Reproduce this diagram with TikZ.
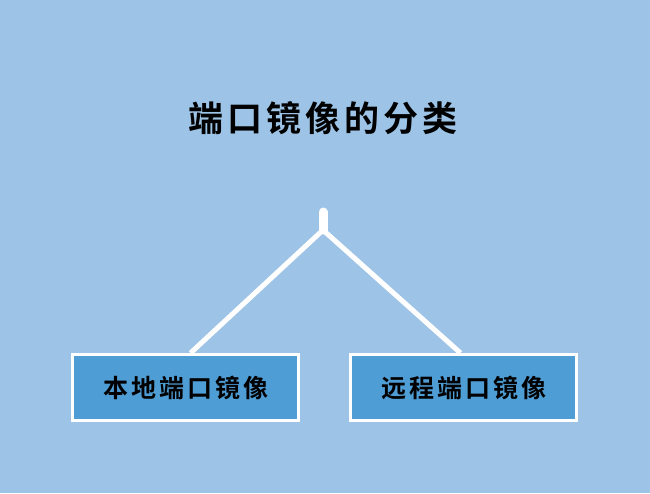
\documentclass[tikz,border=0pt]{standalone}
\usepackage{fontspec}
\newfontfamily\cjk{Noto Sans CJK SC Bold}
\definecolor{bgblue}{HTML}{9DC3E6}
\definecolor{boxblue}{HTML}{4F9DD5}
\begin{document}
\begin{tikzpicture}[x=1pt,y=-1pt,
  catbox/.style={draw=white,line width=3pt,fill=boxblue,minimum width=226pt,minimum height=66pt,inner sep=0pt,
    font=\cjk\fontsize{25}{28}\selectfont,text=black},
  branch/.style={draw=white,line width=5pt}]
\fill[bgblue] (0,0) rectangle (650,493);
\node[font=\cjk\fontsize{35}{38}\selectfont,text=black] (title) at (323,118) {端\hspace{4pt}口\hspace{4pt}镜\hspace{4pt}像\hspace{4pt}的\hspace{4pt}分\hspace{4pt}类};
\node[catbox] (local) at (185.5,387.5) {本\hspace{3pt}地\hspace{3pt}端\hspace{3pt}口\hspace{3pt}镜\hspace{3pt}像};
\node[catbox] (remote) at (463.5,387.5) {远\hspace{3pt}程\hspace{3pt}端\hspace{3pt}口\hspace{3pt}镜\hspace{3pt}像};
\coordinate (top) at (323,212);
\coordinate (apex) at (323,230);
\draw[draw=white,line width=9pt,line cap=round] (top) -- (apex);
\draw[branch] (apex) -- ([xshift=5pt]local.north);
\draw[branch] (apex) -- ([xshift=-3pt]remote.north);
\end{tikzpicture}
\end{document}
